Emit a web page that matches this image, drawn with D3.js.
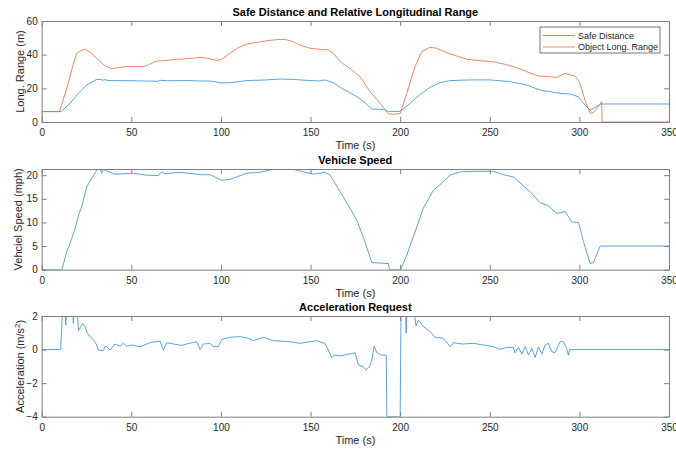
<!DOCTYPE html>
<html>
<head>
<meta charset="utf-8">
<script src="https://cdn.jsdelivr.net/npm/d3@7"></script>
<style>
  html, body { margin: 0; padding: 0; background: #fff; }
  svg { display: block; font-family: "Liberation Sans", Arial, Helvetica, sans-serif; }
</style>
</head>
<body>
<svg id="chart" width="676" height="450"></svg>
<script>
// Time axis shared by all three panels
const timeTicks = [0, 50, 100, 150, 200, 250, 300, 350];

// Panel 1: safe distance and object longitudinal range, [time (s), metres]
const safeDistance = [[0,6.2],[10.8,6.2],[15.8,11.1],[20.5,17],[25.1,22],[30.7,25.3],[33.5,25.3],[34,24.5],[34.5,25.2],[38.1,24.6],[50,24.5],[60,24.3],[65,24.2],[66,24.8],[70,24.5],[81,24.6],[88,24.4],[94,24.3],[100.4,23.2],[105,23.3],[114.4,24.6],[125.6,25],[133,25.5],[140.4,25.3],[149.7,24.6],[155,24.4],[158,25],[160.9,24],[162.8,23.2],[166.5,20.6],[175.8,15],[179.7,12.1],[184.2,7.7],[190.7,7.5],[193.5,6.3],[200,6.3],[205.6,11.1],[210.7,16],[216.7,20.6],[222.3,23.4],[227.9,24.6],[239.1,25],[250.3,25],[261.1,24],[270.6,22],[278,19],[283.7,18],[289.3,17],[294.9,16.6],[299.5,15],[303.1,10.1],[306,7.1],[308.8,8.7],[312,10.7],[350,10.7]];
const objectRange = [[0,0],[0.2,6.2],[9.9,6.2],[14,20],[17,32],[19.5,40.8],[22,42.5],[24.2,43.2],[27,41.5],[30.7,37.8],[35.3,33.3],[39,31.7],[46.5,32.9],[56.7,33],[59.5,33.9],[64,36.2],[69.8,36.6],[75.3,37.2],[81,37.6],[88.4,38.4],[92,38],[97.7,36.6],[100.4,37.2],[105,40.8],[109.7,44.2],[114.4,46.3],[120,47.3],[125.6,48.3],[131,48.9],[135.8,49.1],[140.4,47.7],[144,45.7],[149.7,43.8],[155.3,43.2],[160,42.8],[162.8,40.8],[166.5,35.8],[172,31.9],[177.6,26.9],[183.2,18],[188.8,11.1],[193.5,4.8],[196.3,4.6],[200,5.1],[203.7,17],[208.3,32.9],[212,41.8],[216.7,44.4],[220.4,43.8],[226,41.2],[231.6,39.2],[237.5,37.2],[244.6,36.4],[252,35.8],[257.6,34.5],[263.2,32.9],[270.6,29.9],[277.1,27.3],[283.7,26.9],[287.4,26.5],[292,28.9],[297.6,27.3],[300,24],[303.1,13.1],[306,5.1],[307.8,5.5],[312.5,12.1],[312.6,0],[350,0]];
const rangeTicks = [0, 20, 40, 60];

// Panel 2: vehicle speed, [time (s), mph]
const vehicleSpeed = [[0,0],[11.2,0],[14,3.8],[15.8,5.6],[18.6,8.7],[20.5,11.5],[22.3,13.3],[25.1,17.5],[27.9,19.3],[30.7,21.1],[32.6,21.4],[33.2,20.6],[33.5,20.4],[34,21.2],[35.3,21.1],[38.1,20.6],[40.9,20.2],[51.2,20.4],[58.6,20],[65.1,19.9],[67,20.7],[68.8,20.3],[77.2,20.6],[88.4,20.1],[94,20.1],[100.4,18.9],[105,19.1],[114.4,20.4],[121.8,20.6],[131,21.4],[138.6,21.4],[146,20.7],[151.6,20.2],[158,20.6],[160.9,20],[166.5,16.5],[168.3,15.4],[175.8,10.5],[179.7,6.6],[184.2,1.5],[193.5,1.3],[194,0],[200.3,0],[203.7,3.1],[208.3,8],[212.9,13],[218.5,16.8],[222.3,18],[227.9,20],[233.5,20.7],[242.8,20.8],[252,20.8],[257.6,20.1],[263.2,19.6],[267.9,18],[272.5,16.5],[278,14.2],[282.7,13.5],[287.4,11.9],[292,12.3],[295.8,10.1],[299.5,10],[302.3,5.9],[306,1.3],[307.8,1.5],[311.6,5],[350,5]];
const speedTicks = [0, 5, 10, 15, 20];

// Panel 3: acceleration request, [time (s), m/s^2]
const accelRequest = [[0,0],[10.6,0],[11.7,2.5],[13,2.5],[13.4,1.46],[14,2.5],[17.3,2.5],[17.7,1.56],[18.2,2.5],[19.8,2.5],[20.5,1.13],[22.9,1.56],[24.2,1.36],[25.5,0.97],[27,0.77],[28.8,0.61],[30.7,0.27],[31.6,-0.03],[34.4,-0.07],[35.3,0.17],[36.3,0.17],[38.1,-0.03],[40.9,0.33],[43.7,0.21],[45.6,0.37],[47.4,0.21],[50.2,0.27],[54.9,0.17],[60.5,0.41],[66,0.51],[67.9,-0.03],[69.8,0.41],[73.5,0.33],[78.1,0.25],[83.7,0.41],[86.5,0.47],[88.4,0.01],[90.2,0.33],[94,0.37],[95.8,0.17],[98.6,0.17],[100.4,0.61],[105,0.73],[110.7,0.77],[115.3,0.67],[118.1,0.53],[123.7,0.73],[129.3,0.53],[138.6,0.47],[144,0.37],[153.4,0.53],[158,0.37],[159.9,-0.03],[161.8,-0.47],[163.7,-0.33],[166.5,-0.38],[170.2,-0.29],[174.9,-0.19],[176.7,-0.92],[179.5,-1.02],[181,-1.22],[182.9,-1.02],[184.2,-0.62],[185.5,0.21],[187,-0.19],[189.7,-0.33],[192.2,-0.33],[192.6,-4],[200,-4],[200.5,2.5],[201.8,2.5],[203,2.5],[203.3,0.97],[203.8,2.5],[207.4,2.5],[208.9,1.4],[210.2,1.76],[213,1.36],[216.7,1.07],[219.5,0.73],[224.1,0.67],[227.9,0.17],[229.8,0.41],[234.5,0.33],[240.9,0.37],[246.5,0.27],[252,0.17],[255.8,0.01],[259.5,0.13],[263.2,0.13],[264.1,-0.19],[266,0.13],[267.9,-0.27],[269.7,0.17],[271.6,-0.33],[273.5,0.07],[275.3,-0.47],[277.2,0.17],[279,-0.27],[280.9,0.27],[282.7,0.37],[284.6,-0.13],[286.4,-0.19],[289.2,0.47],[291.1,0.47],[292.9,0.07],[293.9,-0.33],[294.5,0],[350,0]];
const accelTicks = [-4, -2, 0, 2];

const legendLabels = ["Safe Distance", "Object Long. Range"];

const BLUE = "#3f92d2";
const ORANGE = "#e0764a";
const AXIS = "#7f7f7f";
const TEXT = "#262626";

const svg = d3.select("#chart");
const left = 41.7, right = 669;

const x = d3.scaleLinear().domain([0, 350]).range([left, right]);

function panel(opts) {
  const { id, top, bottom, yDomain, yTicks, title, yLabel, series } = opts;
  const y = d3.scaleLinear().domain(yDomain).range([bottom, top]);
  const g = svg.append("g");

  g.append("clipPath").attr("id", "clip-" + id)
    .append("rect").attr("x", left).attr("y", top)
    .attr("width", right - left).attr("height", bottom - top);

  // data lines
  const line = d3.line().x(d => x(d[0])).y(d => y(d[1]));
  const plot = g.append("g").attr("clip-path", `url(#clip-${id})`);
  series.forEach(s => {
    plot.append("path").datum(s.data)
      .attr("d", line)
      .attr("fill", "none")
      .attr("stroke", s.color)
      .attr("stroke-width", 0.85)
      .attr("stroke-linejoin", "round");
  });

  // axes with inward ticks on all four sides
  const tickLen = 5;
  const fmt = d3.format("d");
  const xb = g.append("g").attr("transform", `translate(0,${bottom})`)
    .call(d3.axisBottom(x).tickValues(timeTicks).tickFormat(fmt).tickSizeInner(-tickLen).tickSizeOuter(0).tickPadding(7));
  const xt = g.append("g").attr("transform", `translate(0,${top})`)
    .call(d3.axisTop(x).tickValues(timeTicks).tickFormat("").tickSizeInner(-tickLen).tickSizeOuter(0));
  const yl = g.append("g").attr("transform", `translate(${left},0)`)
    .call(d3.axisLeft(y).tickValues(yTicks).tickFormat(fmt).tickSizeInner(-tickLen).tickSizeOuter(0).tickPadding(4));
  const yr = g.append("g").attr("transform", `translate(${right},0)`)
    .call(d3.axisRight(y).tickValues(yTicks).tickFormat("").tickSizeInner(-tickLen).tickSizeOuter(0));

  [xb, xt, yl, yr].forEach(a => {
    a.select(".domain").attr("stroke", AXIS).attr("stroke-width", 1);
    a.selectAll(".tick line").attr("stroke", AXIS);
    a.selectAll(".tick text").attr("fill", TEXT).style("font-size", "10px")
      .style("font-family", '"Liberation Sans", Arial, sans-serif');
  });

  // title
  g.append("text").attr("x", (left + right) / 2).attr("y", top - 5)
    .attr("text-anchor", "middle").attr("fill", "#000")
    .style("font-size", "11px").style("font-weight", "bold").text(title);

  // x label
  g.append("text").attr("x", (left + right) / 2).attr("y", bottom + 27)
    .attr("text-anchor", "middle").attr("fill", TEXT)
    .style("font-size", "11px").text("Time (s)");

  // y label
  const yt = g.append("text")
    .attr("transform", `translate(${opts.yLabelX},${(top + bottom) / 2}) rotate(-90)`)
    .attr("text-anchor", "middle").attr("fill", TEXT)
    .style("font-size", "11px");
  if (Array.isArray(yLabel)) {
    yt.append("tspan").text(yLabel[0]);
    yt.append("tspan").attr("dy", -4).style("font-size", "8px").text(yLabel[1]);
    yt.append("tspan").attr("dy", 4).text(yLabel[2]);
  } else {
    yt.text(yLabel);
  }
  return { g, y };
}

// Panel 1
const p1 = panel({
  id: "range", top: 21, bottom: 122, yDomain: [0, 60], yTicks: rangeTicks,
  title: "Safe Distance and Relative Longitudinal Range",
  yLabel: "Long. Range (m)", yLabelX: 24,
  series: [{ data: safeDistance, color: BLUE }, { data: objectRange, color: ORANGE }]
});

// Legend
const lg = p1.g.append("g").attr("transform", "translate(540,27)");
lg.append("rect").attr("width", 120).attr("height", 26)
  .attr("fill", "#fff").attr("stroke", "#555").attr("stroke-width", 0.8);
[BLUE, ORANGE].forEach((c, i) => {
  const yy = 8.5 + i * 11.5;
  lg.append("line").attr("x1", 3).attr("x2", 35).attr("y1", yy).attr("y2", yy)
    .attr("stroke", c).attr("stroke-width", 0.85);
  lg.append("text").attr("x", 38).attr("y", yy + 3.2).attr("fill", TEXT)
    .style("font-size", "9px").text(legendLabels[i]);
});

// Panel 2
panel({
  id: "speed", top: 169, bottom: 269.7, yDomain: [0, 21.3], yTicks: speedTicks,
  title: "Vehicle Speed", yLabel: "Vehciel Speed (mph)", yLabelX: 22,
  series: [{ data: vehicleSpeed, color: BLUE }]
});

// Panel 3
panel({
  id: "accel", top: 316, bottom: 416.7, yDomain: [-4, 2], yTicks: accelTicks,
  title: "Acceleration Request", yLabel: ["Acceleration (m/s", "2", ")"], yLabelX: 24,
  series: [{ data: accelRequest, color: BLUE }]
});
</script>
</body>
</html>
